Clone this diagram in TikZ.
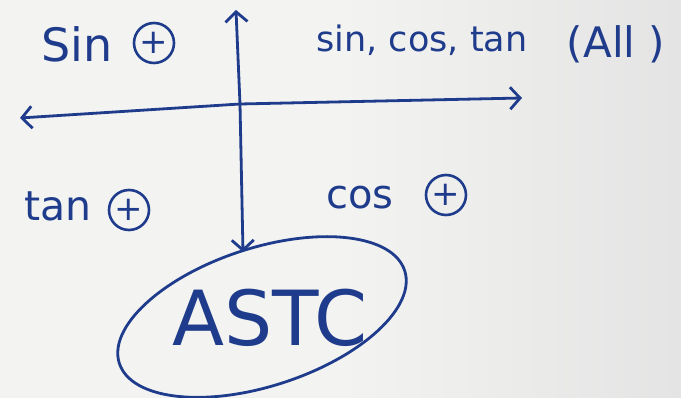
\documentclass[tikz,border=0pt]{standalone}
\usepackage{fontspec}
\setmainfont{DejaVu Sans}
\usetikzlibrary{arrows.meta,shapes.geometric}
\definecolor{ink}{HTML}{1F3C8C}
\definecolor{paperl}{HTML}{F3F3F1}
\definecolor{paperr}{HTML}{E4E4E4}
\tikzset{
  ink/.style={draw=ink, line width=2.8pt, line cap=round},
  axis/.style={ink, -{Straight Barb[length=10pt,width=22pt]}},
  lbl/.style={text=ink, inner sep=0pt},
  plus/.style={circle, draw=ink, line width=2.6pt, text=ink, minimum size=40pt, inner sep=0pt, font=\fontsize{34}{34}\selectfont}
}
\begin{document}
\begin{tikzpicture}[x=1pt,y=-1pt]
\shade[left color=paperl, right color=paperr, middle color=paperl] (0,0) rectangle (681,398);
\useasboundingbox (0,0) rectangle (681,398);
% axes
\coordinate (o) at (240,104);
\coordinate (top) at (236,10);
\coordinate (bot) at (243,252);
\coordinate (left) at (20,118);
\coordinate (right) at (522,98);
\draw[axis] (o) -- (top);
\draw[axis] (o) -- (bot);
\draw[axis] (o) -- (left);
\draw[axis] (o) -- (right);
% quadrant labels
\node[lbl, font=\fontsize{46}{48}\selectfont] (sin) at (77,44) {Sin};
\node[plus] (p1) at (154,43) {+};
\node[lbl, font=\fontsize{35}{36}\selectfont] (all3) at (422,40) {sin, cos, tan};
\node[lbl, font=\fontsize{42}{44}\selectfont] (all) at (616,44) {(All )};
\node[lbl, font=\fontsize{41}{43}\selectfont] (tan) at (58,206) {tan};
\node[plus] (p2) at (129,210) {+};
\node[lbl, font=\fontsize{40}{42}\selectfont] (cos) at (360,198) {cos};
\node[plus] (p4) at (446,195) {+};
% ASTC
\node[ellipse, draw=ink, line width=2.8pt, minimum width=300pt, minimum height=138pt, rotate=18] (ring) at (262,317) {};
\node[lbl, font=\fontsize{76}{76}\selectfont] (astc) at (270,318) {ASTC};
\end{tikzpicture}
\end{document}
